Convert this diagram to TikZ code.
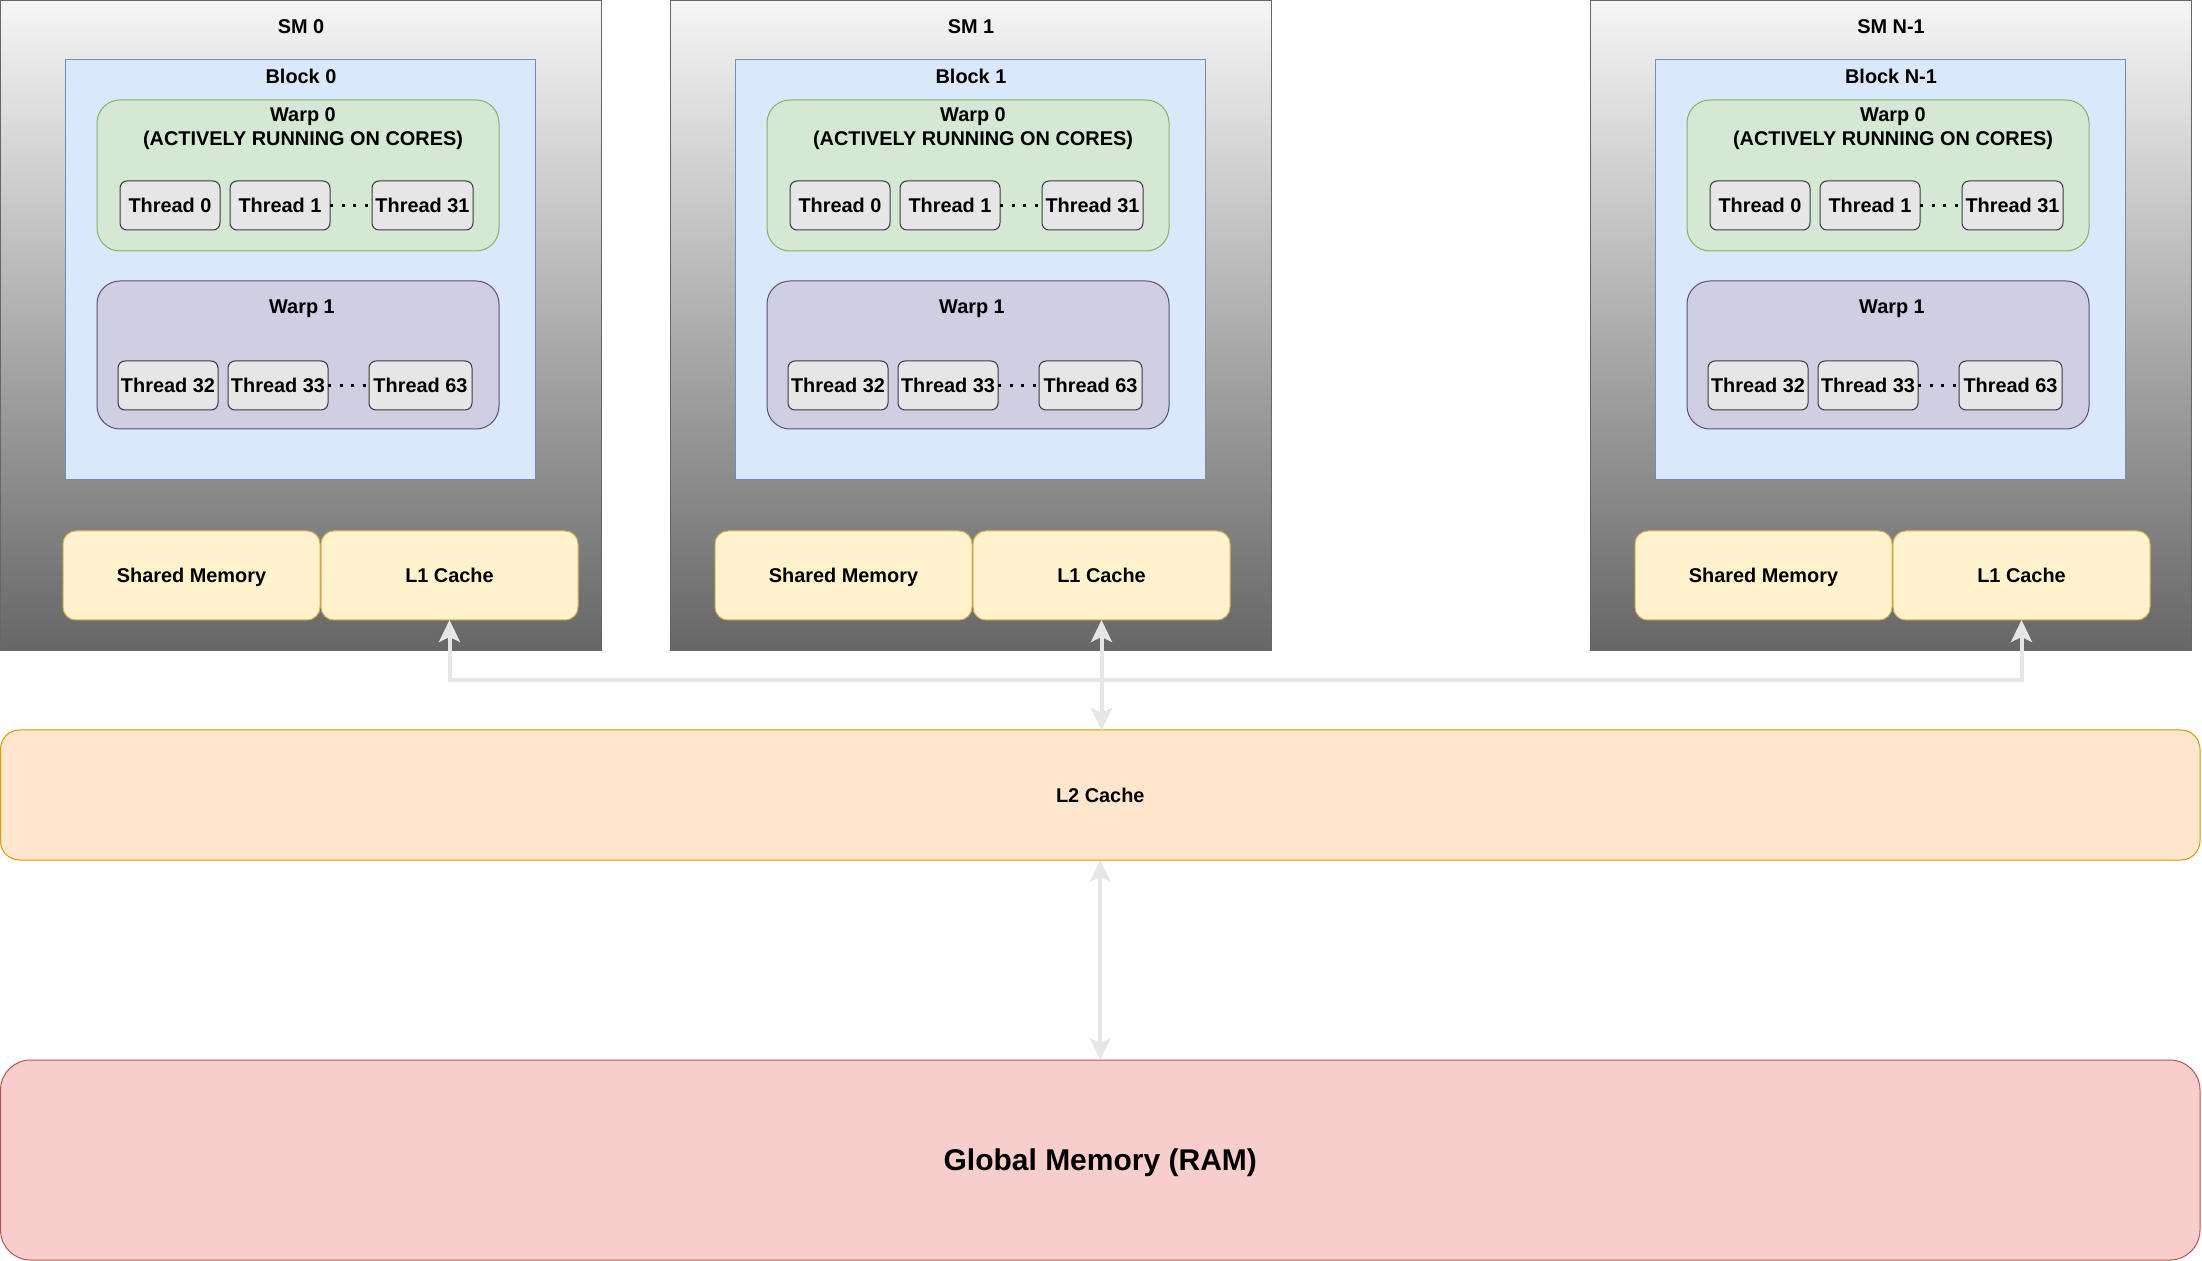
\documentclass[tikz,border=0pt]{standalone}
\usepackage{fontspec}
\setmainfont{Liberation Sans}
\usetikzlibrary{arrows.meta}

\definecolor{smtop}{HTML}{F5F5F5}
\definecolor{smbot}{HTML}{666666}
\definecolor{smline}{HTML}{666666}
\definecolor{blockfill}{HTML}{DAE8FC}
\definecolor{blockline}{HTML}{6C8EBF}
\definecolor{warpgfill}{HTML}{D5E8D4}
\definecolor{warpgline}{HTML}{82B366}
\definecolor{warppfill}{HTML}{D0CEE2}
\definecolor{warppline}{HTML}{56517E}
\definecolor{thrfill}{HTML}{E6E6E6}
\definecolor{thrline}{HTML}{36393D}
\definecolor{memfill}{HTML}{FFF2CC}
\definecolor{memline}{HTML}{D6B656}
\definecolor{ltwofill}{HTML}{FFE6CC}
\definecolor{ltwoline}{HTML}{D79B00}
\definecolor{globfill}{HTML}{F8CECC}
\definecolor{globline}{HTML}{B85450}
\definecolor{linkcol}{HTML}{E6E6E6}

\newcommand\lblfont{\fontsize{9.95}{12}\selectfont\bfseries}

\tikzset{
  capbox/.style={text height=7.2pt, text depth=0pt},
  box/.style={rectangle, inner sep=0pt, outer sep=0pt, line width=0.5pt},
  smbox/.style={box, draw=smline, top color=smtop, bottom color=smbot},
  blockbox/.style={box, draw=blockline, fill=blockfill},
  warpg/.style={box, draw=warpgline, fill=warpgfill, rounded corners=11.5pt, minimum width=201pt},
  warpp/.style={box, draw=warppline, fill=warppfill, rounded corners=11.5pt, minimum width=201pt},
  thr/.style={box, capbox, draw=thrline, fill=thrfill, rounded corners=3.5pt, minimum height=24.5pt, font=\lblfont},
  mem/.style={box, capbox, draw=memline, fill=memfill, rounded corners=6.5pt, minimum width=128.5pt, minimum height=44.5pt, font=\lblfont},
  lbl/.style={inner sep=0pt, capbox, font=\lblfont, text=black},
  dots/.style={draw=black, line width=1.6pt, dash pattern=on 1.6pt off 4.2pt},
  link/.style={draw=linkcol, line width=2pt, >={Stealth[length=11pt,width=10.5pt,inset=2.5pt]}, <->},
}

% #1 x offset, #2 name suffix, #3 SM label, #4 block label, #5 memory offset
\newcommand\smunit[5]{%
\begin{scope}[shift={(#1,0)}]
  \node[smbox, minimum width=300.5pt, minimum height=325pt] (sm#2) at (300.5,326) {};
  \node[lbl] (smt#2) at (301,26) {#3};
  \node[blockbox, minimum width=235pt, minimum height=210pt] (blk#2) at (300,270) {};
  \node[lbl] (blkt#2) at (301,76.5) {#4};
  \node[warpg, minimum height=75.5pt] (wa#2) at (298,175.5) {};
  \node[inner sep=0pt, font=\lblfont, text=black, align=center] (wat#2) at (303,128.5) {Warp 0\\(ACTIVELY RUNNING ON CORES)};
  \node[thr, minimum width=50pt] (ta#2) at (170,205.5) {Thread 0};
  \node[thr, minimum width=50pt] (tb#2) at (280,205.5) {Thread 1};
  \node[thr, minimum width=50.5pt] (tc#2) at (422.5,205.5) {Thread 31};
  \draw[dots] (tb#2.east) -- (tc#2.west);
  \node[warpp, minimum height=74pt] (wb#2) at (298,355) {};
  \node[lbl] (wbt#2) at (302,306) {Warp 1};
  \node[thr, minimum width=50pt] (td#2) at (168,385.5) {Thread 32};
  \node[thr, minimum width=50pt] (te#2) at (278,385.5) {Thread 33};
  \node[thr, minimum width=51.5pt] (tf#2) at (420.5,385.5) {Thread 63};
  \draw[dots] (te#2.east) -- (tf#2.west);
  \node[mem] (shm#2) at (#5+128.5,575.5) {Shared Memory};
  \node[mem] (lone#2) at (#5+386.5,575.5) {L1 Cache};
\end{scope}}

\begin{document}
\begin{tikzpicture}[x=0.5pt, y=-0.5pt]
  \useasboundingbox (0,0) rectangle (2202,1261);

  \smunit{0}{a}{SM 0}{Block 0}{63}
  \smunit{670}{b}{SM 1}{Block 1}{45}
  \smunit{1590}{c}{SM N-1}{Block N-1}{45}

  \node[box, capbox, draw=ltwoline, fill=ltwofill, rounded corners=9.5pt,
        minimum width=1099.75pt, minimum height=65pt, font=\lblfont] (ltwo) at (1100.25,795) {L2 Cache};
  \node[box, draw=globline, fill=globfill, rounded corners=15pt,
        minimum width=1099.75pt, minimum height=100pt, text height=10.9pt, text depth=0pt,
        font=\fontsize{15}{18}\selectfont\bfseries] (glob) at (1100.25,1160) {Global Memory (RAM)};

  \coordinate (bus) at (0,680);
  \draw[link] (lonea.south) |- (bus -| loneb.south) -- (loneb.south |- ltwo.north);
  \draw[link] (lonec.south) |- (bus -| loneb.south) -- (loneb.south |- ltwo.north);
  \draw[link] (loneb.south) -- (loneb.south |- ltwo.north);
  \draw[link] (ltwo.south) -- (glob.north);
\end{tikzpicture}
\end{document}
